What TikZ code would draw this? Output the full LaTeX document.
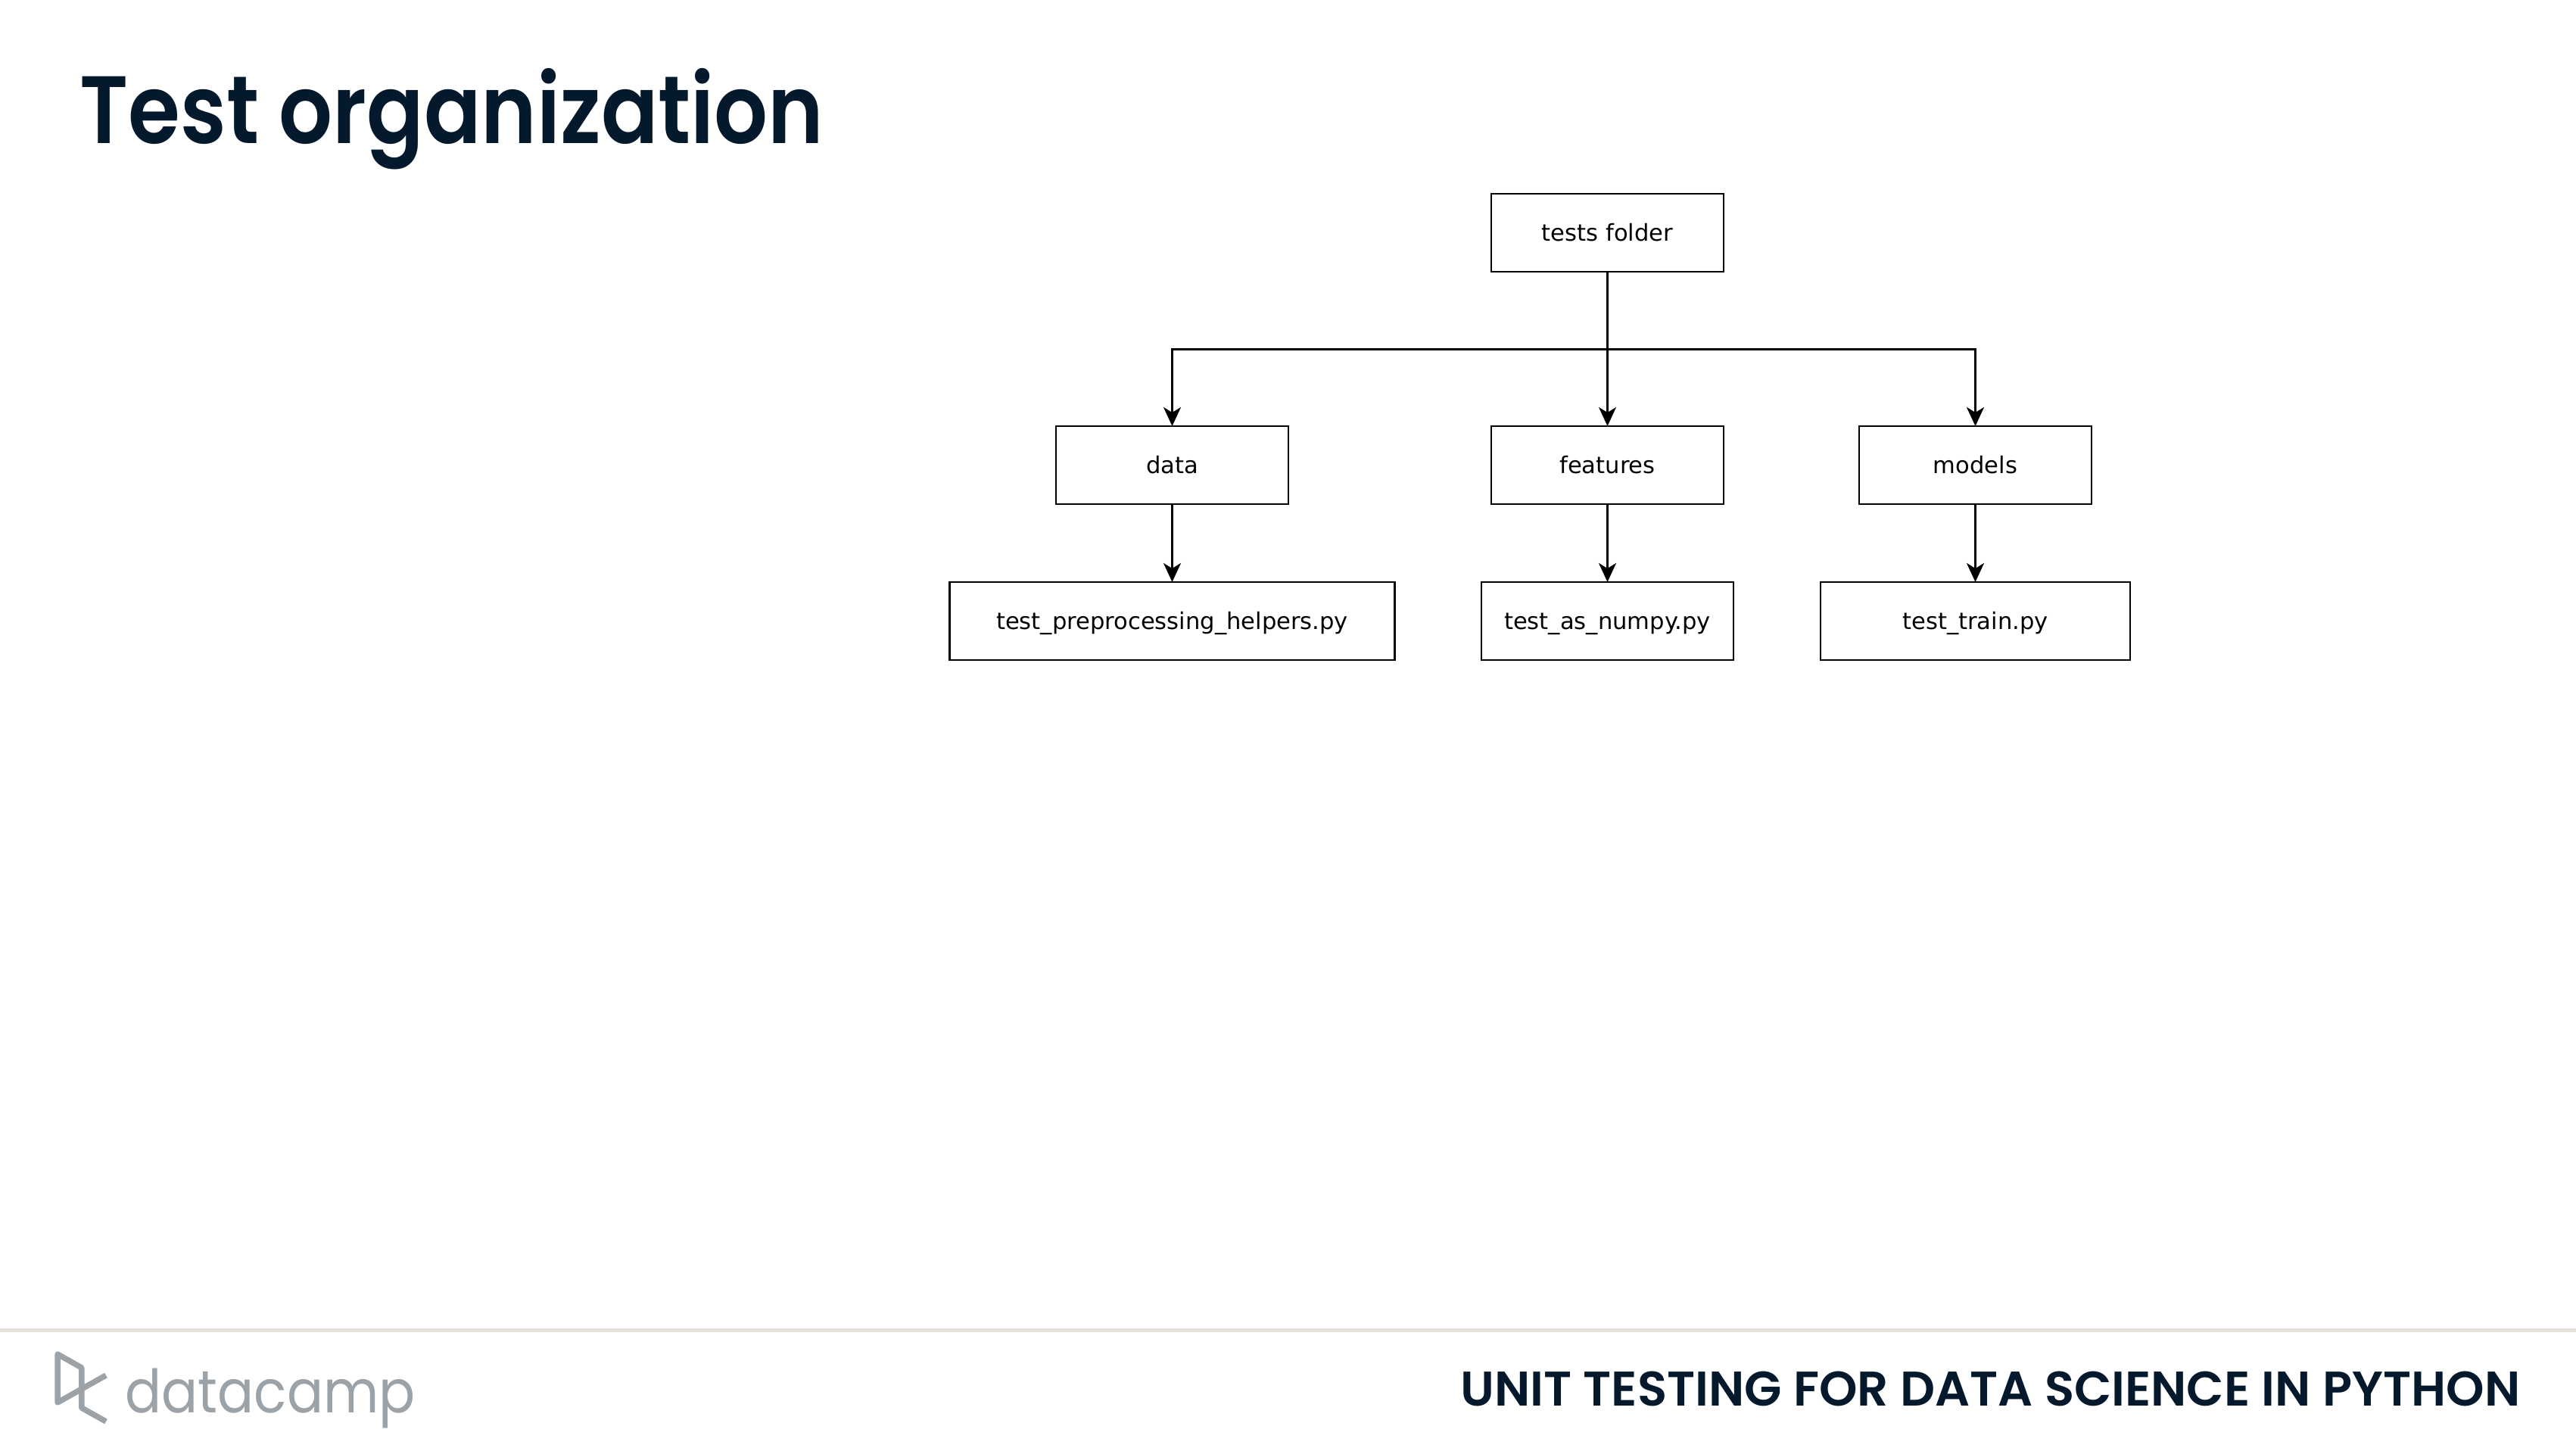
\documentclass[tikz,border=0pt]{standalone}
\usepackage{fontspec}
\usepackage{xcolor}
\usepackage{tikz}
\usetikzlibrary{positioning}
\usetikzlibrary{arrows.meta}

\setmainfont{DejaVu Sans}
\newfontfamily\headfont[UprightFont=* SemiBold, FakeStretch=0.88]{Poppins}
\newfontfamily\coursefont[UprightFont=* SemiBold]{Poppins}
\newfontfamily\logofont[FakeStretch=0.9]{Poppins}

\definecolor{dcnavy}{HTML}{05192D}
\definecolor{dcgrey}{HTML}{9BA3A9}
\definecolor{dcrule}{HTML}{E5E1DC}

\tikzset{
    treebox/.style={draw, rectangle, line width=0.8pt, inner sep=0pt, outer sep=0pt,
        minimum height=1.03cm, font=\fontsize{8.7}{10}\selectfont,
        text height=1.5ex, text depth=0.4ex},
    treeflow/.style={-{Stealth[length=0.25cm, width=0.23cm, inset=0.07cm]},
        line width=0.8pt}
}

\begin{document}
\begin{tikzpicture}
    \useasboundingbox (0,0) rectangle (34.03,19.17);

    \node[anchor=base west, text=dcnavy, inner sep=0pt,
        font=\headfont\fontsize{36}{40}\selectfont] (title) at (1.05,17.27) {Test organization};

    \node[treebox, minimum width=3.07cm] (folder) at (21.235,16.095) {tests folder};
    \node[treebox, minimum width=3.07cm, below=2.04cm of folder] (features) {features};
    \node[treebox, minimum width=3.07cm, left=2.68cm of features] (data) {data};
    \node[treebox, minimum width=3.07cm, right=1.79cm of features] (models) {models};
    \node[treebox, minimum width=5.88cm, below=1.03cm of data] (preprocessing) {test\_preprocessing\_helpers.py};
    \node[treebox, minimum width=3.33cm, below=1.03cm of features] (numpy) {test\_as\_numpy.py};
    \node[treebox, minimum width=4.09cm, below=1.03cm of models] (train) {test\_train.py};

    \coordinate (bus) at (21.235,14.555);
    \draw[treeflow] (folder) -- (features);
    \draw[treeflow] (bus) -| (data);
    \draw[treeflow] (bus) -| (models);
    \draw[treeflow] (data) -- (preprocessing);
    \draw[treeflow] (features) -- (numpy);
    \draw[treeflow] (models) -- (train);

    % footer
    \fill[dcrule] (0,1.57) rectangle (34.03,1.62);
    \draw[dcgrey, line width=0.075cm, line join=round]
        (1.40,1.00) -- (0.76,0.64) -- (0.76,1.28) -- (1.078,1.10) -- (1.078,0.57) -- (1.40,0.39);
    \node[anchor=base west, text=dcgrey, inner sep=0pt,
        font=\logofont\fontsize{22.5}{26}\selectfont] (logo) at (1.65,0.50) {datacamp};
    \node[anchor=base east, text=dcnavy, inner sep=0pt,
        font=\coursefont\fontsize{18.3}{22}\selectfont] (course) at (33.30,0.59) {UNIT TESTING FOR DATA SCIENCE IN PYTHON};
\end{tikzpicture}
\end{document}
